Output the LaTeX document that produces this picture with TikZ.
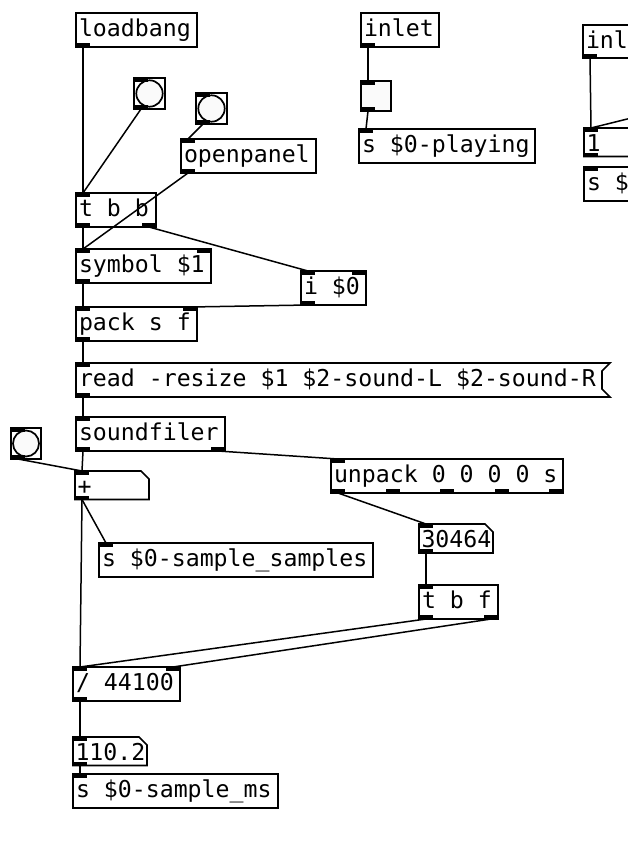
\documentclass[tikz,border=0pt]{standalone}
\usepackage{fontspec}
\setmainfont{DejaVu Sans Mono}
\usetikzlibrary{calc}
\newcommand\pdfont{\fontsize{23.2pt}{27pt}\selectfont}
\tikzset{
  pdbox/.style={draw=black, line width=1.7pt, fill=white, rectangle, inner sep=0pt, outer sep=0pt, anchor=north west},
  pdshape/.style={draw=none, rectangle, inner sep=0pt, outer sep=0pt, anchor=north west},
  boxline/.style={draw=black, fill=white, line width=1.7pt},
  pdtxt/.style={anchor=base west, inner sep=0pt, outer sep=0pt, font=\pdfont, text=black},
  conn/.style={line width=1.5pt, draw=black},
  io/.style={fill=black, draw=none},
  gui/.style={draw=black, line width=2pt, fill=white, rectangle, inner sep=0pt, outer sep=0pt, anchor=north west},
  guifill/.style={draw=black, line width=1.7pt, fill=black!2},
}
\newcommand\pdobj[6]{%
  \node[pdbox, minimum width=#4, minimum height=#5] (#1) at (#2,#3) {};
  \node[pdtxt] (#1-t) at ($(#1.north west)+(3,23)$) {#6};}
\newcommand\pdmsg[6]{%
  \node[pdshape, minimum width=#4, minimum height=#5] (#1) at (#2,#3) {};
  \filldraw[boxline] (#1.north west) -- ($(#1.north east)+(8,0)$) -- ($(#1.north east)+(0,8)$) -- ($(#1.south east)+(0,-8)$) -- ($(#1.south east)+(8,0)$) -- (#1.south west) -- cycle;
  \node[pdtxt] (#1-t) at ($(#1.north west)+(3,23)$) {#6};}
\newcommand\pdatom[6]{%
  \node[pdshape, minimum width=#4, minimum height=#5] (#1) at (#2,#3) {};
  \filldraw[boxline] (#1.north west) -- ($(#1.north east)+(-8,0)$) -- ($(#1.north east)+(0,8)$) -- (#1.south east) -- (#1.south west) -- cycle;
  \node[pdtxt] (#1-t) at ($(#1.north west)+(2.5,23.5)$) {#6};}
\newcommand\pdin[1]{\fill[io] (#1.north west) ++(-0.85,-0.85) rectangle ++(14.85,4.6);}
\newcommand\pdinR[1]{\fill[io] (#1.north east) ++(0.85,-0.85) rectangle ++(-14.85,4.6);}
\newcommand\pdout[1]{\fill[io] (#1.south west) ++(-0.85,0.85) rectangle ++(14.85,-4.6);}
\newcommand\pdoutR[1]{\fill[io] (#1.south east) ++(0.85,0.85) rectangle ++(-14.85,-4.6);}
\newcommand\pdoutAt[2]{\fill[io] ([xshift=#2]#1.south west) ++(0,0.85) rectangle ++(14,-4.6);}
\begin{document}
\begin{tikzpicture}[x=1pt,y=-1pt]
\useasboundingbox (0,0) rectangle (628,868);
\clip (0,0) rectangle (628,868);
\fill[white] (0,0) rectangle (628,868);

% ---- left column ----
\pdobj{lb}{76}{13}{121}{34}{loadbang}
\pdout{lb}

\node[gui, minimum width=31, minimum height=31] (b1) at (134,78) {};
\draw[guifill] (b1.center) circle[radius=13.2pt];
\pdin{b1}\pdout{b1}

\node[gui, minimum width=31, minimum height=31] (b2) at (196,93) {};
\draw[guifill] (b2.center) circle[radius=13.2pt];
\pdin{b2}\pdout{b2}

\pdobj{op}{181}{139}{135}{34}{openpanel}
\pdin{op}\pdout{op}

\pdobj{tbb}{76}{193}{80}{34}{t b b}
\pdin{tbb}\pdout{tbb}\pdoutR{tbb}

\pdobj{sym}{76}{249}{135}{34}{symbol \$1}
\pdin{sym}\pdinR{sym}\pdout{sym}

\pdobj{ii}{301}{271}{65}{34}{i \$0}
\pdin{ii}\pdinR{ii}\pdout{ii}

\pdobj{pk}{76}{307}{121}{34}{pack s f}
\pdin{pk}\pdinR{pk}\pdout{pk}

\pdmsg{rd}{76}{363}{526}{34}{read -resize \$1 \$2-sound-L \$2-sound-R}
\pdin{rd}\pdout{rd}

\pdobj{sf}{76}{417}{149}{34}{soundfiler}
\pdin{sf}\pdout{sf}\pdoutR{sf}

\node[gui, minimum width=30, minimum height=31] (b3) at (11,428) {};
\draw[guifill] (b3.center) circle[radius=13pt];
\pdin{b3}\pdout{b3}

\pdatom{plus}{75}{471}{74}{28.5}{+}
\pdin{plus}\pdout{plus}

\pdobj{unp}{331}{459}{232}{34}{unpack 0 0 0 0 s}
\pdin{unp}\pdout{unp}\pdoutAt{unp}{54.5}\pdoutAt{unp}{109}\pdoutAt{unp}{163.5}\pdoutR{unp}

\pdobj{ss}{99}{543}{274}{34}{s \$0-sample\_samples}
\pdin{ss}

\pdatom{na}{419}{524}{74}{29}{30464}
\pdin{na}\pdout{na}

\pdobj{tbf}{419}{585}{79}{34}{t b f}
\pdin{tbf}\pdout{tbf}\pdoutR{tbf}

\pdobj{dv}{73}{667}{107}{34}{/ 44100}
\pdin{dv}\pdinR{dv}\pdout{dv}

\pdatom{nb}{73}{737}{74}{28.5}{110.2}
\pdin{nb}\pdout{nb}

\pdobj{sms}{73}{774}{205}{34}{s \$0-sample\_ms}
\pdin{sms}

% ---- middle ----
\pdobj{inm}{361}{13}{78}{34}{inlet}
\pdout{inm}

\node[gui, minimum width=30, minimum height=30, fill=black!2] (tg) at (361,81) {};
\pdin{tg}\pdout{tg}

\pdobj{sp}{359}{129}{176}{34}{s \$0-playing}
\pdin{sp}

% ---- right (cut off) ----
\pdobj{inr}{583}{25}{80}{33}{inl}
\pdout{inr}
\pdatom{onr}{584}{128}{74}{28.5}{1}
\pdin{onr}\pdout{onr}
\pdobj{snr}{584}{167}{150}{34}{s \$}
\pdin{snr}
\coordinate (offr) at (700,101);

% ---- connections ----
\draw[conn] ([xshift=7]lb.south west) -- ([xshift=7]tbb.north west);
\draw[conn] ([xshift=7]b1.south west) -- ([xshift=7]tbb.north west);
\draw[conn] ([xshift=7]b2.south west) -- ([xshift=7]op.north west);
\draw[conn] ([xshift=7]op.south west) -- ([xshift=7]sym.north west);
\draw[conn] ([xshift=7]tbb.south west) -- ([xshift=7]sym.north west);
\draw[conn] ([xshift=-7]tbb.south east) -- ([xshift=7]ii.north west);
\draw[conn] ([xshift=7]sym.south west) -- ([xshift=7]pk.north west);
\draw[conn] ([xshift=7]ii.south west) -- ([xshift=-7]pk.north east);
\draw[conn] ([xshift=7]pk.south west) -- ([xshift=7]rd.north west);
\draw[conn] ([xshift=7]rd.south west) -- ([xshift=7]sf.north west);
\draw[conn] ([xshift=7]sf.south west) -- ([xshift=7]plus.north west);
\draw[conn] ([xshift=7]b3.south west) -- ([xshift=7]plus.north west);
\draw[conn] ([xshift=-7]sf.south east) -- ([xshift=7]unp.north west);
\draw[conn] ([xshift=7]plus.south west) -- ([xshift=7]ss.north west);
\draw[conn] ([xshift=7]plus.south west) -- ([xshift=7]dv.north west);
\draw[conn] ([xshift=7]unp.south west) -- ([xshift=7]na.north west);
\draw[conn] ([xshift=7]na.south west) -- ([xshift=7]tbf.north west);
\draw[conn] ([xshift=7]tbf.south west) -- ([xshift=7]dv.north west);
\draw[conn] ([xshift=-7]tbf.south east) -- ([xshift=-7]dv.north east);
\draw[conn] ([xshift=7]dv.south west) -- ([xshift=7]nb.north west);
\draw[conn] ([xshift=7]nb.south west) -- ([xshift=7]sms.north west);
\draw[conn] ([xshift=7]inm.south west) -- ([xshift=7]tg.north west);
\draw[conn] ([xshift=7]tg.south west) -- ([xshift=7]sp.north west);
\draw[conn] ([xshift=7]inr.south west) -- ([xshift=7]onr.north west);
\draw[conn] (offr) -- ([xshift=7]onr.north west);
\end{tikzpicture}
\end{document}
